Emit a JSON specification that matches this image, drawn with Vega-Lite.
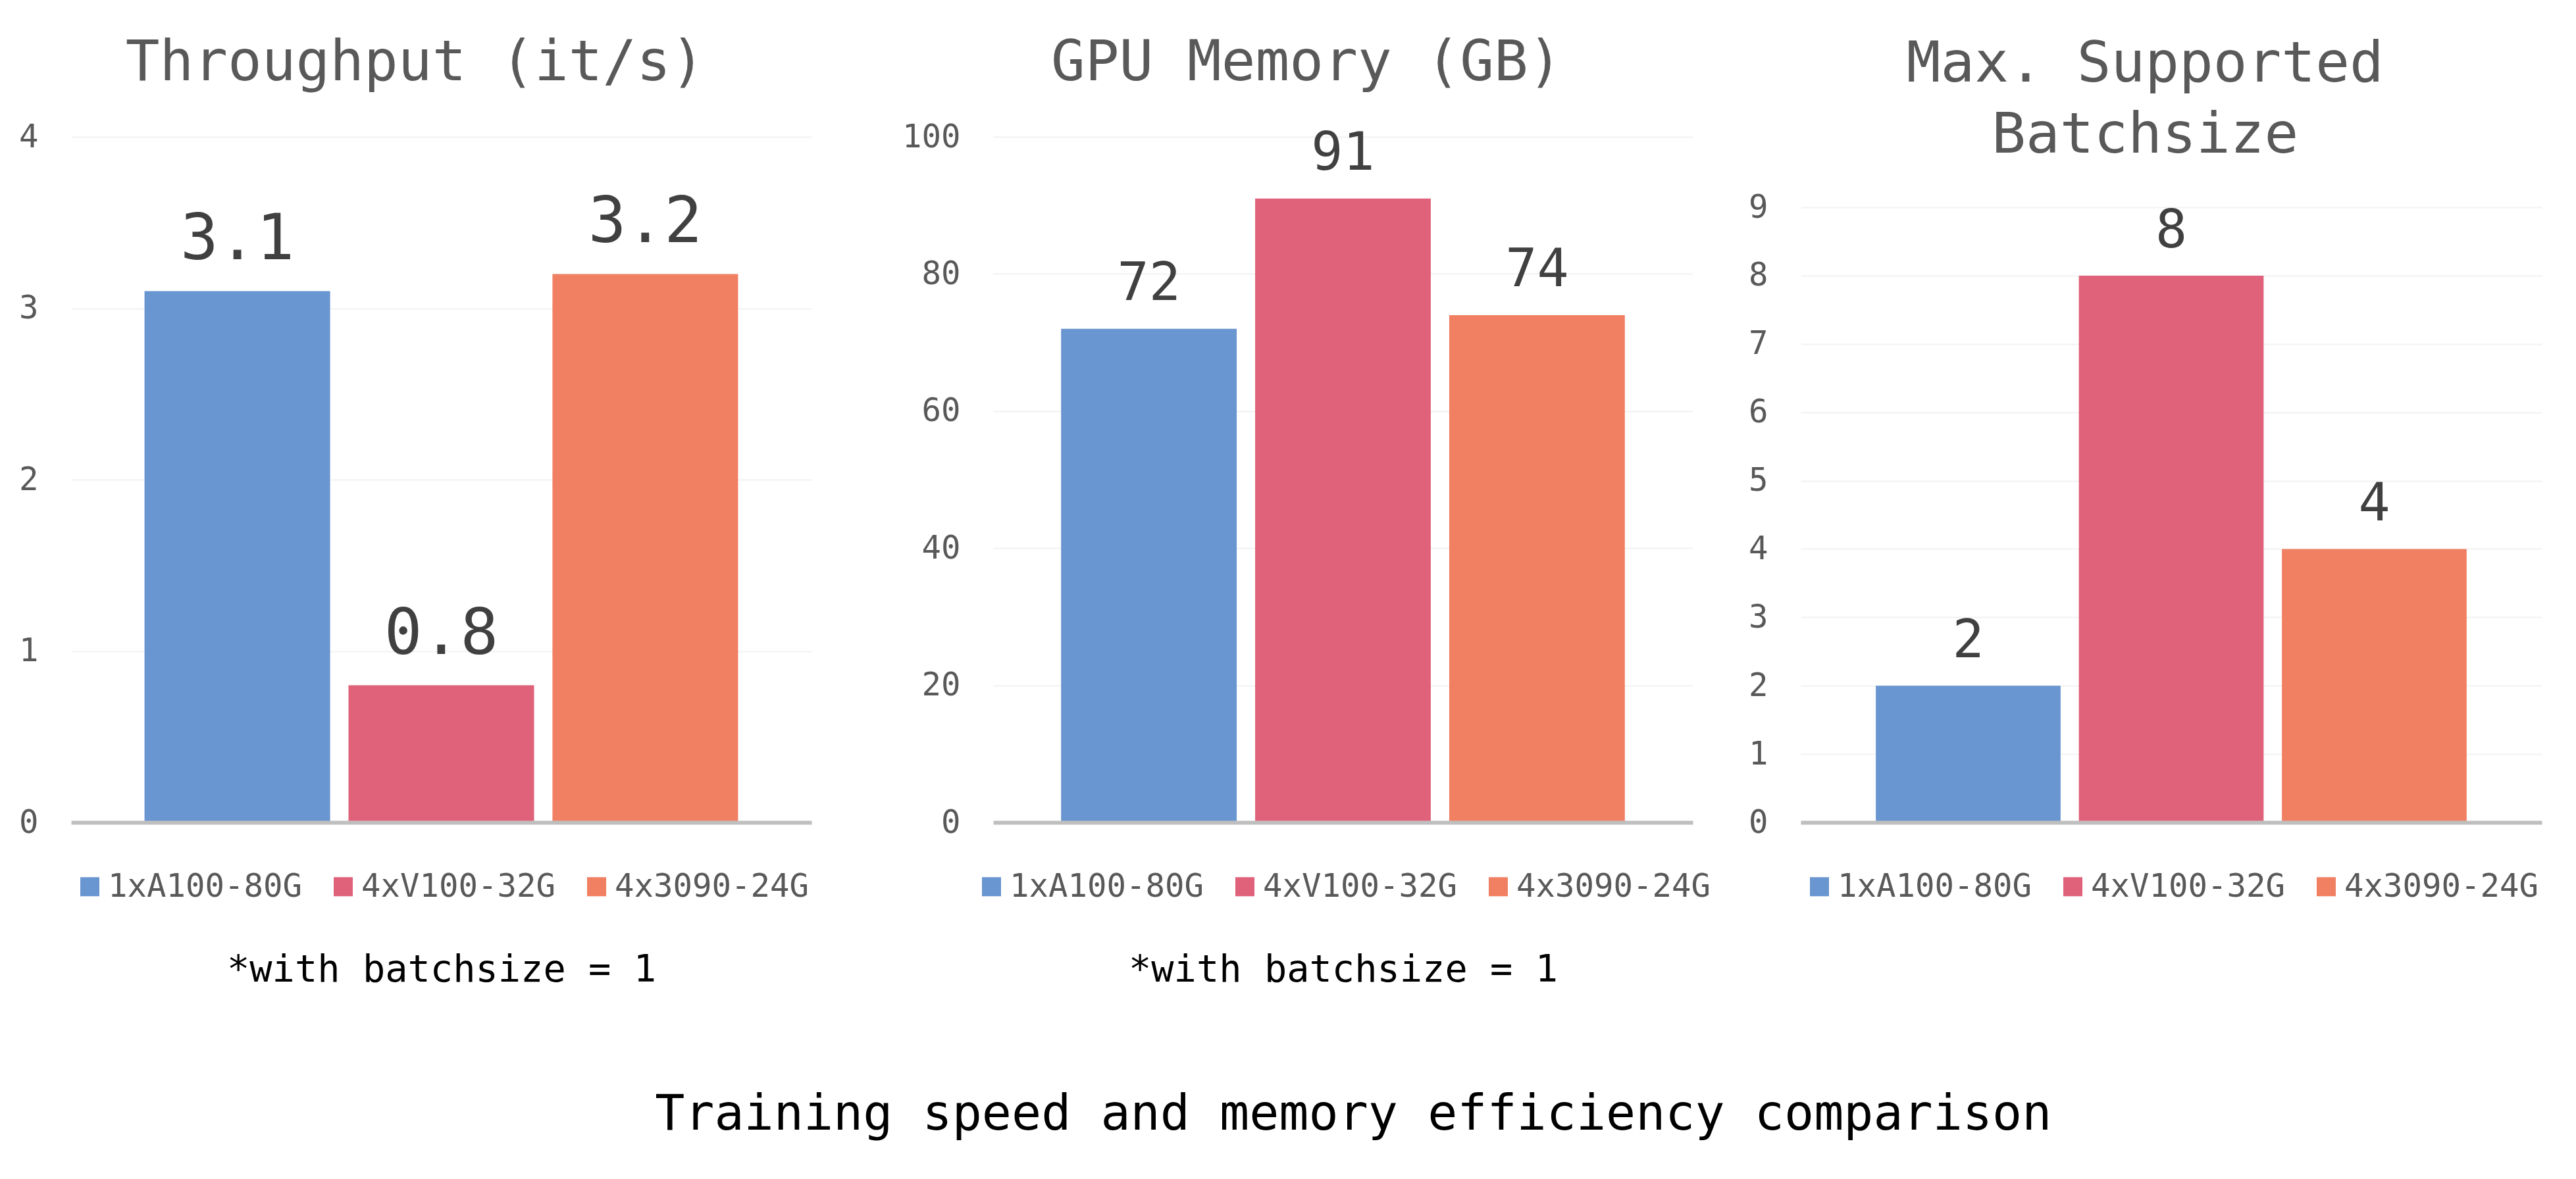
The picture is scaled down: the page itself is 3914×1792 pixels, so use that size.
{
  "$schema": "https://vega.github.io/schema/vega-lite/v6.json",
  "background": "white",
  "padding": {"left": 28, "top": 53, "right": 30, "bottom": 20},
  "title": {"text": "Training speed and memory efficiency comparison", "orient": "bottom", "anchor": "middle", "frame": "bounds", "fontSize": 75, "font": "DejaVu Sans Mono", "fontWeight": "normal", "color": "#000000", "offset": 155, "dx": 111},
  "datasets": {
    "tp": [
      {"gpu": "1xA100-80G", "value": 3.1},
      {"gpu": "4xV100-32G", "value": 0.8},
      {"gpu": "4x3090-24G", "value": 3.2}
    ],
    "mem": [
      {"gpu": "1xA100-80G", "value": 72},
      {"gpu": "4xV100-32G", "value": 91},
      {"gpu": "4x3090-24G", "value": 74}
    ],
    "bs": [
      {"gpu": "1xA100-80G", "value": 2},
      {"gpu": "4xV100-32G", "value": 8},
      {"gpu": "4x3090-24G", "value": 4}
    ]
  },
  "spacing": 56,
  "resolve": {"scale": {"color": "independent", "x": "independent", "y": "independent"}, "legend": {"color": "independent"}},
  "hconcat": [
    {
      "spacing": 137,
      "resolve": {"scale": {"color": "independent", "x": "independent", "y": "independent"}, "legend": {"color": "independent"}},
      "hconcat": [
        {
          "width": 1125,
          "height": 1042,
          "data": {"name": "tp"},
          "title": {"text": "Throughput (it/s)"},
          "encoding": {
            "x": {"field": "gpu", "type": "nominal", "sort": null, "scale": {"paddingInner": 0.09, "paddingOuter": 0.36}, "axis": {"labels": false, "ticks": false, "title": null, "grid": false, "domainColor": "#BFBFBF", "domainWidth": 6, "zindex": 1}},
            "y": {"field": "value", "type": "quantitative", "scale": {"domain": [0, 4], "nice": false}, "axis": {"values": [0, 1, 2, 3, 4], "title": null}}
          },
          "layer": [
            {
              "mark": {"type": "bar"},
              "encoding": {
                "color": {"field": "gpu", "type": "nominal", "sort": null,
                  "scale": {"domain": ["1xA100-80G", "4xV100-32G", "4x3090-24G"], "range": ["#6996D0", "#E0627A", "#F18063"]},
                  "legend": {"title": "*with batchsize = 1"}}
              }
            },
            {
              "mark": {"type": "text", "dy": -48, "fontSize": 96, "font": "DejaVu Sans Mono", "color": "#404040", "baseline": "alphabetic", "align": "center"},
              "encoding": {"text": {"field": "value", "type": "quantitative", "format": ".1f"}}
            }
          ]
        },
        {
          "width": 1063,
          "height": 1042,
          "data": {"name": "mem"},
          "title": {"text": "GPU Memory (GB)"},
          "encoding": {
            "x": {"field": "gpu", "type": "nominal", "sort": null, "scale": {"paddingInner": 0.095, "paddingOuter": 0.35}, "axis": {"labels": false, "ticks": false, "title": null, "grid": false, "domainColor": "#BFBFBF", "domainWidth": 6, "zindex": 1}},
            "y": {"field": "value", "type": "quantitative", "scale": {"domain": [0, 100], "nice": false}, "axis": {"values": [0, 20, 40, 60, 80, 100], "title": null}}
          },
          "layer": [
            {
              "mark": {"type": "bar"},
              "encoding": {
                "color": {"field": "gpu", "type": "nominal", "sort": null,
                  "scale": {"domain": ["1xA100-80G", "4xV100-32G", "4x3090-24G"], "range": ["#6996D0", "#E0627A", "#F18063"]},
                  "legend": {"title": "*with batchsize = 1"}}
              }
            },
            {
              "mark": {"type": "text", "dy": -44, "fontSize": 80, "font": "DejaVu Sans Mono", "color": "#404040", "baseline": "alphabetic", "align": "center"},
              "encoding": {"text": {"field": "value", "type": "quantitative", "format": "d"}}
            }
          ]
        }
      ]
    },
    {
      "width": 1126,
      "height": 1042,
      "data": {"name": "bs"},
      "title": {"text": ["Max. Supported", "Batchsize"], "offset": -42},
      "encoding": {
        "x": {"field": "gpu", "type": "nominal", "sort": null, "scale": {"paddingInner": 0.09, "paddingOuter": 0.37}, "axis": {"labels": false, "ticks": false, "title": null, "grid": false, "domainColor": "#BFBFBF", "domainWidth": 6, "zindex": 1}},
        "y": {"field": "value", "type": "quantitative", "scale": {"domain": [0, 10.03], "nice": false}, "axis": {"values": [0, 1, 2, 3, 4, 5, 6, 7, 8, 9], "title": null}}
      },
      "layer": [
        {
          "mark": {"type": "bar"},
          "encoding": {
            "color": {"field": "gpu", "type": "nominal", "sort": null,
              "scale": {"domain": ["1xA100-80G", "4xV100-32G", "4x3090-24G"], "range": ["#6996D0", "#E0627A", "#F18063"]},
              "legend": {"title": null}}
          }
        },
        {
          "mark": {"type": "text", "dy": -43, "fontSize": 80, "font": "DejaVu Sans Mono", "color": "#404040", "baseline": "alphabetic", "align": "center"},
          "encoding": {"text": {"field": "value", "type": "quantitative", "format": "d"}}
        }
      ]
    }
  ],
  "config": {
    "view": {"stroke": null},
    "title": {"fontSize": 86, "font": "DejaVu Sans Mono", "fontWeight": "normal", "color": "#595959", "offset": 44, "lineHeight": 108, "anchor": "middle", "frame": "bounds"},
    "axisY": {"domain": false, "ticks": false, "tickSize": 0, "labelPadding": 50, "labelFontSize": 49, "labelFont": "DejaVu Sans Mono", "labelColor": "#595959", "gridColor": "#F2F2F2", "gridWidth": 2},
    "legend": {
      "orient": "bottom", "direction": "horizontal", "offset": 73, "padding": 0,
      "symbolType": "square", "symbolSize": 841, "symbolStrokeWidth": 0, "symbolOpacity": 1,
      "labelFontSize": 49, "labelFont": "DejaVu Sans Mono", "labelColor": "#595959", "labelOffset": 3, "labelLimit": 0,
      "columnPadding": 37,
      "titleOrient": "bottom", "titleAnchor": "middle", "titleAlign": "center", "titleFontSize": 57, "titleFont": "DejaVu Sans Mono", "titleFontWeight": "normal", "titleColor": "#000000", "titlePadding": 74, "titleLimit": 0,
      "layout": {"bottom": {"anchor": "middle", "bounds": "full"}}
    }
  }
}
